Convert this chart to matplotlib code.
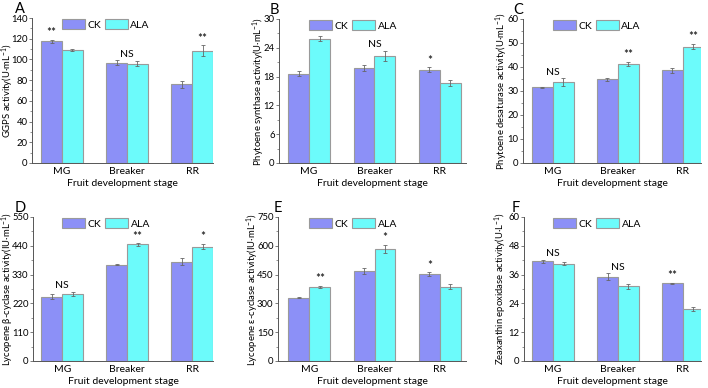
import matplotlib
matplotlib.use("Agg")
import matplotlib.pyplot as plt
import matplotlib.transforms as mtransforms
from matplotlib.ticker import AutoMinorLocator
import numpy as np

plt.rcParams['font.family'] = ['Lato', 'DejaVu Sans']
plt.rcParams['mathtext.fontset'] = 'custom'
plt.rcParams['mathtext.rm'] = 'Lato'

# Data
stages = ["MG", "Breaker", "RR"]
groups = ["CK", "ALA"]

a_ck = [117.5, 97, 76]
a_ck_err = [1.5, 2, 3.5]
a_ala = [109, 96, 108.5]
a_ala_err = [0.8, 2, 5]
a_sig = ["**", "NS", "**"]

b_ck = [18.6, 19.8, 19.4]
b_ck_err = [0.5, 0.7, 0.5]
b_ala = [25.9, 22.3, 16.6]
b_ala_err = [0.5, 1.0, 0.6]
b_sig = ["**", "NS", "*"]

c_ck = [31.5, 34.9, 38.6]
c_ck_err = [0.2, 0.7, 0.9]
c_ala = [33.7, 41.2, 48.5]
c_ala_err = [1.6, 0.9, 1.0]
c_sig = ["NS", "**", "**"]

d_ck = [246, 368, 380]
d_ck_err = [8, 3, 12]
d_ala = [255, 445, 437]
d_ala_err = [8, 4, 10]
d_sig = ["NS", "**", "*"]

e_ck = [330, 469, 452]
e_ck_err = [3, 14, 10]
e_ala = [387, 585, 388]
e_ala_err = [6, 20, 15]
e_sig = ["**", "*", "*"]

f_ck = [41.6, 35.2, 32.3]
f_ck_err = [0.6, 1.3, 0.3]
f_ala = [40.6, 31.1, 21.5]
f_ala_err = [0.5, 1.1, 0.8]
f_sig = ["NS", "NS", "**"]

# which bar the significance mark sits over: 0 = CK, 1 = ALA, 0.5 = between
a_pos = [0, 0.5, 1]
b_pos = [1, 0.5, 0]
c_pos = [0.5, 1, 1]
d_pos = [0.5, 1, 1]
e_pos = [1, 1, 0]
f_pos = [0.5, 0.5, 0]

ylabels = [
    "GGPS activity(U·mL$^{-1}$)",
    "Phytoene synthase activity(U·mL$^{-1}$)",
    "Phytoene desaturase activity(U·mL$^{-1}$)",
    "Lycopene β-cyclase activity(IU·mL$^{-1}$)",
    "Lycopene ε-cyclase activity(IU·mL$^{-1}$)",
    "Zeaxanthin epoxidase activity(U·L$^{-1}$)",
]
letters = ["A", "B", "C", "D", "E", "F"]
ymax = [140, 30, 60, 550, 750, 60]
ystep = [20, 6, 10, 110, 150, 12]

panels = [
    (a_ck, a_ck_err, a_ala, a_ala_err, a_sig, a_pos),
    (b_ck, b_ck_err, b_ala, b_ala_err, b_sig, b_pos),
    (c_ck, c_ck_err, c_ala, c_ala_err, c_sig, c_pos),
    (d_ck, d_ck_err, d_ala, d_ala_err, d_sig, d_pos),
    (e_ck, e_ck_err, e_ala, e_ala_err, e_sig, e_pos),
    (f_ck, f_ck_err, f_ala, f_ala_err, f_sig, f_pos),
]

# axes boxes in pixels: left, top, right, bottom
W, H = 708, 388
boxes = [
    (32, 18, 213, 163), (279, 19, 466, 163), (523, 19, 701, 163),
    (33, 217, 213, 361), (278, 217, 466, 361), (524, 217, 701, 361),
]
xlims = [(-0.46, 2.32), (-0.46, 2.4), (-0.46, 2.28),
         (-0.45, 2.32), (-0.48, 2.4), (-0.45, 2.28)]
letter_x = [15, 270, 513, 15, 274, 512]
ylabel_x = [8, 258.5, 502, 7.5, 253, 501]

ck_color = "#8C90F7"
ala_color = "#6CFBFB"
edge = "#9A9A9A"
width = 0.32

fig = plt.figure(figsize=(W / 100, H / 100), dpi=100)

for i, (ck, ck_err, ala, ala_err, sig, pos) in enumerate(panels):
    l, t, r, b = boxes[i]
    ax = fig.add_axes([l / W, (H - b) / H, (r - l) / W, (b - t) / H])
    x = np.arange(len(stages))
    ax.bar(x - width / 2, ck, width, yerr=ck_err, color=ck_color, edgecolor=edge,
           linewidth=0.8, label="CK",
           error_kw=dict(ecolor="#666666", elinewidth=0.6, capsize=1.5, capthick=0.6))
    ax.bar(x + width / 2, ala, width, yerr=ala_err, color=ala_color, edgecolor=edge,
           linewidth=0.8, label="ALA",
           error_kw=dict(ecolor="#666666", elinewidth=0.6, capsize=1.5, capthick=0.6))

    for j in range(len(stages)):
        p = pos[j]
        if p == 0:
            xx, top = x[j] - width / 2, ck[j] + ck_err[j]
        elif p == 1:
            xx, top = x[j] + width / 2, ala[j] + ala_err[j]
        else:
            xx = x[j]
            top = max(ck[j] + ck_err[j], ala[j] + ala_err[j])
        fs = 7.5 if sig[j] == "NS" else 8.5
        ax.text(xx, top + ymax[i] * 0.012, sig[j], ha="center", va="bottom", fontsize=fs)

    ax.set_xlim(*xlims[i])
    ax.set_ylim(0, ymax[i])
    ax.set_yticks(np.arange(0, ymax[i] + 1, ystep[i]))
    ax.yaxis.set_minor_locator(AutoMinorLocator(2))
    ax.set_xticks(x)
    ax.set_xticklabels(stages)
    ax.tick_params(axis="x", length=0, labelsize=7.5, pad=3)
    ax.tick_params(axis="y", length=2, width=0.6, labelsize=6.8, pad=1.2, color="#666666")
    ax.tick_params(axis="y", which="minor", length=1.2, width=0.5, color="#666666")
    ax.spines["top"].set_visible(False)
    ax.spines["right"].set_visible(False)
    ax.spines["left"].set_color("#555555")
    ax.spines["bottom"].set_color("#555555")
    ax.spines["left"].set_linewidth(0.7)
    ax.spines["bottom"].set_linewidth(0.7)
    ax.set_xlabel("Fruit development stage", fontsize=7.5, labelpad=2)
    ax.set_ylabel(ylabels[i], fontsize=6.8, va="center")
    ax.yaxis.set_label_coords((ylabel_x[i] - l) / (r - l), 0.5)

    trans = mtransforms.blended_transform_factory(ax.transData, ax.transAxes)
    ax.legend(loc="upper left", bbox_to_anchor=(0, 0.99), bbox_transform=trans,
              ncol=2, frameon=False, fontsize=7.5, handlelength=2.2, handleheight=1.0,
              handletextpad=0.25, columnspacing=0.35, borderaxespad=0, borderpad=0)

    fig.text(letter_x[i] / W, 1 - (t - 9) / H, letters[i],
             fontsize=10.5, ha="left", va="center")

fig.savefig("out.png", dpi=100)
